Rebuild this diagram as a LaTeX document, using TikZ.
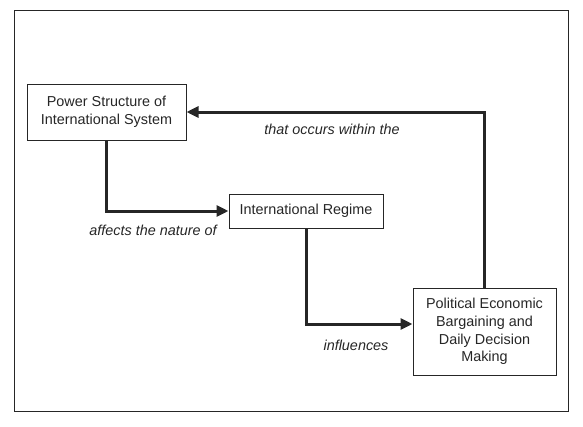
\documentclass[tikz,border=0pt]{standalone}
\usepackage{fontspec}
\setmainfont{Liberation Sans}
\usetikzlibrary{arrows.meta}
\begin{document}
\begin{tikzpicture}[x=1pt,y=-1pt,
  box/.style={draw=black!85,line width=1pt,align=center,inner sep=0pt,
    font=\fontsize{14.4}{17.6}\selectfont,text=black!85},
  lbl/.style={font=\fontsize{14.4}{17.6}\selectfont\itshape,text=black!85,inner sep=0pt},
  conn/.style={draw=black!85,line width=3pt,-{Triangle[length=12pt,width=11pt]}}]
\useasboundingbox (0,0) rectangle (583,426);
\draw[black!85,line width=1pt] (14,10) rectangle (568,411);
\node[box,minimum width=159pt,minimum height=56pt] (b1) at (106.5,112) {Power Structure of\\International System};
\node[box,minimum width=154pt,minimum height=34pt] (b2) at (306,211) {International Regime};
\node[box,minimum width=143pt,minimum height=87pt] (b3) at (484.5,331.5) {Political Economic\\Bargaining and\\Daily Decision\\Making};
\draw[conn] (b1.south) |- (b2.west);
\draw[conn] (b2.south) |- ([yshift=7.5pt]b3.west);
\draw[conn] (b3.north) |- (b1.east);
\node[lbl] (l1) at (153,230) {affects the nature of};
\node[lbl] (l2) at (356,345) {influences};
\node[lbl] (l3) at (332,129) {that occurs within the};
\end{tikzpicture}
\end{document}
